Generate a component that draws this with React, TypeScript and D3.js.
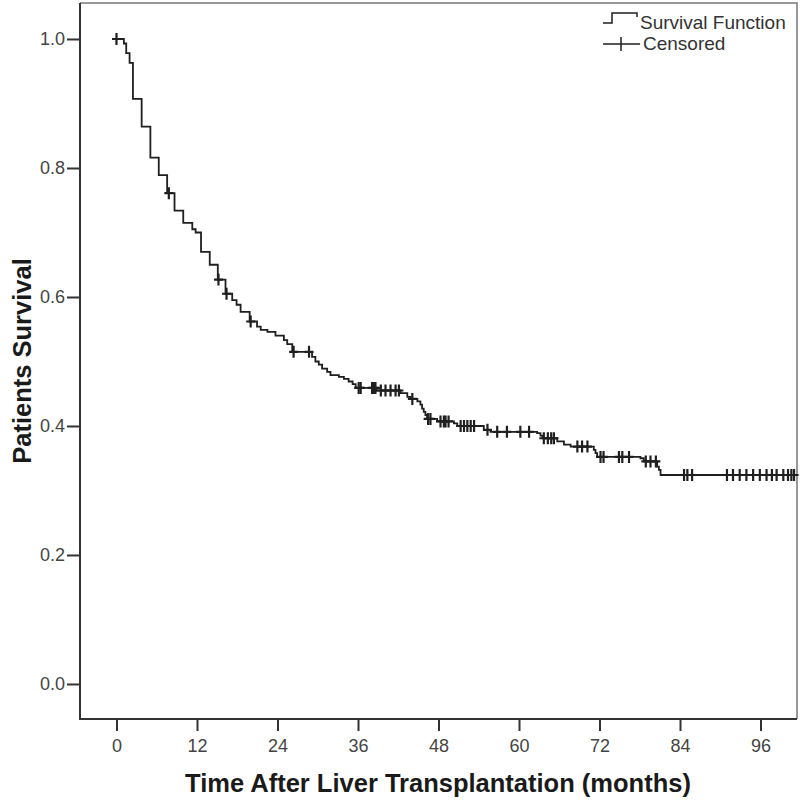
import { useEffect, useRef } from 'react';
import * as d3 from 'd3';

// Kaplan-Meier steps: time (months) at which survival drops, and the new level
const eventTimes = [
  0, 1.1, 1.45, 1.95, 2.45, 3.75, 5.05, 6.3, 7.55, 8.65,
  9.95, 11.3, 11.8, 12.6, 13.9, 15.1, 16.25, 17.25, 17.9, 18.5,
  19.85, 20.95, 21.5, 22.5, 23.7, 24.95, 25.45, 26.2, 29.15, 29.65,
  30.15, 30.65, 31.4, 31.9, 33.15, 33.9, 34.6, 35.2, 35.65, 38.75,
  42.35, 43.35, 43.85, 44.85, 45.3, 45.55, 45.8, 46.05, 46.3, 47.8,
  50.3, 50.8, 54.75, 55.75, 62.7, 63.2, 63.5, 65.7, 66.7, 67.7,
  71.15, 71.4, 71.65, 78.1, 78.6, 80.6, 80.85, 81.1,
];
const survival = [
  1.0, 0.993, 0.978, 0.963, 0.907, 0.864, 0.816, 0.789, 0.761, 0.734,
  0.715, 0.705, 0.7, 0.67, 0.65, 0.627, 0.605, 0.595, 0.588, 0.577,
  0.562, 0.554, 0.549, 0.546, 0.54, 0.533, 0.527, 0.515, 0.507, 0.5,
  0.495, 0.489, 0.484, 0.479, 0.476, 0.473, 0.469, 0.465, 0.459, 0.455,
  0.451, 0.445, 0.442, 0.438, 0.433, 0.427, 0.422, 0.417, 0.411, 0.407,
  0.404, 0.4, 0.394, 0.391, 0.389, 0.385, 0.381, 0.376, 0.371, 0.368,
  0.363, 0.358, 0.352, 0.35, 0.345, 0.337, 0.332, 0.324,
];
// censored patients (months)
const censoredTimes = [
  0, 7.8, 15.2, 16.4, 20.0, 26.4, 28.7, 36.1, 36.4, 38.1,
  38.4, 38.6, 39.4, 40.1, 40.85, 41.6, 42.1, 44.1, 46.45, 46.8,
  48.3, 48.8, 49.05, 49.5, 51.3, 51.8, 52.3, 52.8, 53.3, 55.3,
  56.75, 58.2, 60.2, 61.5, 63.7, 64.3, 64.8, 65.2, 68.7, 69.4,
  70.2, 72.15, 72.6, 74.9, 75.4, 76.4, 78.9, 79.6, 80.4, 84.6,
  85.1, 85.8, 91.0, 91.9, 92.9, 93.9, 94.9, 95.9, 96.9, 97.7,
  98.4, 99.4, 100.1, 100.6, 101.0,
];
const followUpEnd = 101.4;

const xTicks = [0, 12, 24, 36, 48, 60, 72, 84, 96];
const yTicks = [0, 0.2, 0.4, 0.6, 0.8, 1.0];

const W = 800;
const H = 801;
const plot = { left: 80, right: 797, top: 3, bottom: 719 };
const lineColor = '#1f1f1f';
const tickFont = '"Liberation Sans", Arial, sans-serif';

export default function App() {
  const ref = useRef<SVGSVGElement>(null);

  useEffect(() => {
    const svg = d3.select(ref.current);
    svg.selectAll('*').remove();

    const x = d3.scaleLinear().domain([-5.441, 101.44]).range([plot.left, plot.right]);
    const y = d3.scaleLinear().domain([-0.0543, 1.0558]).range([plot.bottom, plot.top]);

    svg.append('rect').attr('width', W).attr('height', H).attr('fill', '#fff');

    // frame (top / right lighter)
    svg.append('path')
      .attr('d', `M${plot.left},${plot.top}H${plot.right}V${plot.bottom}`)
      .attr('fill', 'none')
      .attr('stroke', '#777')
      .attr('stroke-width', 1.5);

    // x axis
    const gx = svg.append('g')
      .attr('transform', `translate(0,${plot.bottom})`)
      .call(d3.axisBottom(x).tickValues(xTicks).tickSize(12).tickSizeOuter(0).tickPadding(8));
    gx.select('.domain').remove();
    gx.selectAll('line').attr('stroke', '#333').attr('stroke-width', 2);
    gx.selectAll('text')
      .attr('fill', '#444')
      .style('font-family', tickFont)
      .style('font-size', '18px');

    // y axis
    const gy = svg.append('g')
      .attr('transform', `translate(${plot.left},0)`)
      .call(d3.axisLeft(y).tickValues(yTicks).tickFormat(d3.format('.1f')).tickSize(13).tickSizeOuter(0).tickPadding(2));
    gy.select('.domain').remove();
    gy.selectAll('line').attr('stroke', '#333').attr('stroke-width', 2);
    gy.selectAll('text')
      .attr('fill', '#444')
      .style('font-family', tickFont)
      .style('font-size', '18px');

    // axis lines (left + bottom, darker)
    svg.append('path')
      .attr('d', `M${plot.left},${plot.top}V${plot.bottom}H${plot.right}`)
      .attr('fill', 'none')
      .attr('stroke', '#333')
      .attr('stroke-width', 2);

    // survival step curve
    const pts: [number, number][] = eventTimes.map((t, i) => [t, survival[i]]);
    pts.push([followUpEnd, survival[survival.length - 1]]);
    const line = d3.line<[number, number]>()
      .x(d => x(d[0]))
      .y(d => y(d[1]))
      .curve(d3.curveStepAfter);
    svg.append('path')
      .datum(pts)
      .attr('d', line)
      .attr('fill', 'none')
      .attr('stroke', lineColor)
      .attr('stroke-width', 1.8);

    // censored marks
    const survAt = (t: number) => survival[Math.max(0, d3.bisectRight(eventTimes, t) - 1)];
    svg.append('g')
      .selectAll('path')
      .data(censoredTimes)
      .enter().append('path')
      .attr('d', t => {
        const cx = x(t);
        const cy = y(survAt(t));
        return `M${cx - 4.5},${cy}h9M${cx},${cy - 6}v12`;
      })
      .attr('fill', 'none')
      .attr('stroke', lineColor)
      .attr('stroke-width', 2.2);

    // legend
    const lg = svg.append('g');
    lg.append('path')
      .attr('d', 'M603,23H612V13H637V17')
      .attr('fill', 'none')
      .attr('stroke', lineColor)
      .attr('stroke-width', 1.5);
    lg.append('path')
      .attr('d', 'M603,44H640M621,37V51')
      .attr('fill', 'none')
      .attr('stroke', lineColor)
      .attr('stroke-width', 1.5);
    lg.append('text')
      .attr('x', 640).attr('y', 29)
      .attr('fill', '#333')
      .style('font-family', tickFont)
      .style('font-size', '19px')
      .text('Survival Function');
    lg.append('text')
      .attr('x', 643).attr('y', 50)
      .attr('fill', '#333')
      .style('font-family', tickFont)
      .style('font-size', '19px')
      .text('Censored');

    // axis titles
    svg.append('text')
      .attr('x', 438).attr('y', 792)
      .attr('text-anchor', 'middle')
      .attr('fill', '#1a1a1a')
      .style('font-family', tickFont)
      .style('font-weight', 'bold')
      .style('font-size', '25.5px')
      .text('Time After Liver Transplantation (months)');
    svg.append('text')
      .attr('transform', `translate(31,${(plot.top + plot.bottom) / 2}) rotate(-90)`)
      .attr('text-anchor', 'middle')
      .attr('fill', '#1a1a1a')
      .style('font-family', tickFont)
      .style('font-weight', 'bold')
      .style('font-size', '25.5px')
      .text('Patients Survival');
  }, []);

  return (
    <svg
      ref={ref}
      width={W}
      height={H}
      style={{ position: 'absolute', left: 0, top: 0, display: 'block' }}
    />
  );
}
